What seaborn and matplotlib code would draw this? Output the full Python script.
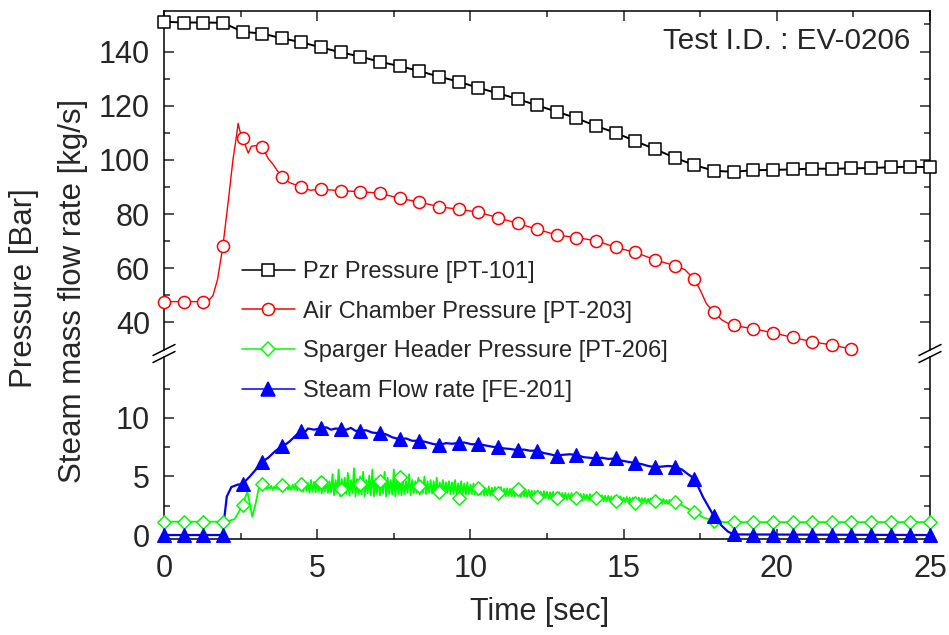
import numpy as np
import matplotlib
matplotlib.use("Agg")
import matplotlib.pyplot as plt
from matplotlib.lines import Line2D
from matplotlib.ticker import FixedLocator
import seaborn as sns

# ---------------- data ----------------
t_mark = [0.000, 0.641, 1.282, 1.923, 2.564, 3.205, 3.846, 4.487, 5.128, 5.769,
          6.410, 7.051, 7.692, 8.333, 8.974, 9.615, 10.256, 10.897, 11.538, 12.179,
          12.821, 13.462, 14.103, 14.744, 15.385, 16.026, 16.667, 17.308, 17.949, 18.590,
          19.231, 19.872, 20.513, 21.154, 21.795, 22.436, 23.077, 23.718, 24.359, 25.000]

pzr_mark = [151.0, 150.7, 150.7, 150.6, 147.3, 146.6, 144.9, 143.4, 141.5, 139.7,
            138.1, 136.2, 134.6, 132.8, 130.7, 128.9, 126.6, 124.6, 122.5, 120.1,
            117.8, 115.4, 112.5, 110.0, 106.9, 104.0, 100.8, 98.1, 96.0, 95.6,
            96.2, 96.3, 96.5, 96.8, 96.7, 96.9, 97.0, 97.3, 97.5, 97.3]

air_mark = [47.7, 47.7, 47.7, 68.3, 108.2, 104.8, 93.8, 90.0, 89.2, 88.6,
            88.3, 87.7, 85.8, 84.5, 82.7, 81.8, 80.7, 78.7, 76.6, 74.4,
            72.3, 71.3, 70.2, 67.7, 65.9, 63.1, 61.0, 55.9, 43.8, 38.9,
            37.7, 36.2, 34.5, 32.9, 31.7, 30.2]

sparger_mark = [1.14, 1.14, 1.14, 1.14, 2.6, 4.35, 4.3, 4.4, 4.5, 3.95,
                4.4, 4.64, 4.95, 4.2, 3.65, 3.18, 3.99, 3.63, 3.96, 3.22,
                3.18, 3.18, 3.18, 2.92, 2.74, 2.9, 2.85, 2.0, 1.2, 1.1,
                1.1, 1.1, 1.1, 1.1, 1.1, 1.1, 1.1, 1.1, 1.1, 1.1]

steam_mark = [0.0, 0.0, 0.0, 0.0, 4.36, 6.27, 7.6, 8.92, 9.12, 9.06,
              8.92, 8.69, 8.18, 8.06, 7.69, 7.86, 7.78, 7.49, 7.26, 7.21,
              6.75, 6.84, 6.55, 6.55, 6.15, 5.8, 5.84, 4.82, 1.6, 0.1,
              0.0, 0.0, 0.0, 0.0, 0.0, 0.0, 0.0, 0.0, 0.0, 0.0]

# continuous traces
air_line_t = [0.0, 1.3, 1.45, 1.6, 1.75, 1.923, 2.1, 2.25, 2.38, 2.42, 2.48, 2.564,
              2.65, 2.75, 2.85, 3.0, 3.205, 3.4, 3.55, 3.7, 3.846, 4.1, 4.487, 4.77,
              5.128, 5.769, 6.410, 7.051, 7.692, 8.333, 8.974, 9.615, 10.256, 10.897,
              11.538, 12.179, 12.821, 13.462, 14.103, 14.744, 15.385, 16.026, 16.667,
              17.0, 17.308, 17.5, 17.7, 17.949, 18.2, 18.4, 18.590, 19.231, 19.872,
              20.513, 21.154, 21.795, 22.436, 22.65]
air_line_v = [47.7, 47.7, 48.0, 50.0, 56.0, 68.3, 85.0, 100.0, 110.0, 113.5, 110.5, 108.2,
              105.5, 102.5, 105.0, 105.3, 104.8, 100.5, 98.5, 96.0, 93.8, 91.6, 90.0, 88.8,
              89.2, 88.6, 88.3, 87.7, 85.8, 84.5, 82.7, 81.8, 80.7, 78.7,
              76.6, 74.4, 72.3, 71.3, 70.2, 67.7, 65.9, 63.1, 61.0,
              59.5, 55.9, 52.0, 47.0, 43.8, 41.0, 39.7, 38.9, 37.7, 36.2,
              34.5, 32.9, 31.7, 30.2, 29.6]

sparger_head_t = [0.0, 1.9, 2.1, 2.3, 2.45, 2.564, 2.72, 2.8, 2.88, 3.0, 3.1]
sparger_head_v = [1.14, 1.14, 1.2, 1.35, 2.0, 2.6, 3.7, 2.7, 1.56, 2.8, 4.1]
# noisy section: peaks (at 3.2, 3.3, ... 16.6 s) and troughs (0.05 s later)
sparger_noise_hi = [4.15, 4.2, 4.1, 4.2, 4.15, 4.25, 4.15, 4.2, 4.3, 4.2, 4.3, 4.25, 4.35,
                    4.5, 4.6, 4.45, 4.7, 4.55, 4.6, 4.8, 4.5, 4.7, 4.6,
                    5.2, 4.7, 5.6, 4.8, 4.9, 5.3, 4.7, 5.7, 4.8, 5.0, 5.4, 4.7, 5.1,
                    5.6, 4.8, 5.0, 4.7, 5.4, 4.9, 4.7, 5.6, 4.8, 5.0, 4.7,
                    4.6, 5.2, 4.7, 4.6, 4.9, 4.6, 5.0, 4.6, 4.7, 4.6, 4.9, 4.5, 4.7, 4.5, 4.6,
                    4.5, 4.7, 4.4, 4.6, 4.4, 4.5, 4.3, 4.4,
                    4.2, 4.1, 4.2, 4.0, 4.15, 4.05, 4.1, 4.0, 4.1, 3.95, 4.0, 3.95, 4.0, 3.9,
                    3.95, 3.85, 3.9, 3.85, 3.8,
                    3.75, 3.8, 3.7, 3.75, 3.7, 3.65, 3.7, 3.6, 3.65, 3.6, 3.6, 3.55, 3.6, 3.5,
                    3.55, 3.5, 3.5, 3.45, 3.5, 3.4, 3.45, 3.4, 3.4, 3.35, 3.35,
                    3.3, 3.3, 3.25, 3.3, 3.2, 3.25, 3.2, 3.2, 3.15, 3.2, 3.15, 3.15, 3.1, 3.15,
                    3.1, 3.1, 3.05, 3.1, 3.0, 3.0, 2.95]
sparger_noise_lo = [3.95, 3.9, 3.95, 3.85, 3.95, 3.9, 3.95, 3.85, 3.9, 3.85, 3.9, 3.8, 3.85,
                    3.7, 3.75, 3.6, 3.7, 3.65, 3.7, 3.55, 3.7, 3.6, 3.65,
                    3.4, 3.6, 3.3, 3.55, 3.5, 3.35, 3.6, 3.3, 3.5, 3.45, 3.3, 3.55, 3.4,
                    3.3, 3.5, 3.4, 3.55, 3.3, 3.5, 3.45, 3.3, 3.5, 3.4, 3.5,
                    3.6, 3.4, 3.55, 3.6, 3.45, 3.6, 3.5, 3.6, 3.55, 3.6, 3.45, 3.6, 3.55, 3.6, 3.5,
                    3.5, 3.45, 3.55, 3.5, 3.45, 3.5, 3.5, 3.45,
                    3.4, 3.45, 3.35, 3.4, 3.35, 3.4, 3.3, 3.4, 3.35, 3.3, 3.35, 3.3, 3.3, 3.35,
                    3.25, 3.3, 3.25, 3.3, 3.2,
                    3.15, 3.2, 3.1, 3.15, 3.1, 3.1, 3.05, 3.1, 3.05, 3.05, 3.0, 3.05, 3.0, 3.0,
                    3.0, 2.95, 3.0, 2.95, 2.95, 2.9, 2.95, 2.9, 2.9, 2.9, 2.85,
                    2.85, 2.8, 2.85, 2.8, 2.8, 2.8, 2.75, 2.8, 2.75, 2.75, 2.75, 2.7, 2.75, 2.7,
                    2.7, 2.7, 2.65, 2.7, 2.65, 2.6, 2.6]
sparger_tail_t = [16.8, 17.0, 17.308, 17.6, 17.949, 18.3, 25.0]
sparger_tail_v = [2.7, 2.4, 1.95, 1.5, 1.2, 1.1, 1.1]

steam_line_t = [0.0, 1.93, 1.97, 2.05, 2.2, 2.4, 2.564, 2.8, 3.0, 3.205, 3.4, 3.6, 3.846,
                4.0, 4.1, 4.3, 4.487, 4.6, 4.7, 4.9, 5.128, 5.3, 5.45, 5.6, 5.769, 5.95,
                6.1, 6.25, 6.410, 6.6, 6.8, 7.051, 7.25, 7.45, 7.692, 7.9, 8.1, 8.333,
                8.55, 8.75, 8.974, 9.2, 9.4, 9.615, 9.8, 10.05, 10.256, 10.5, 10.7,
                10.897, 11.1, 11.3, 11.538, 11.75, 11.95, 12.179, 12.4, 12.6, 12.821,
                13.0, 13.25, 13.462, 13.7, 13.9, 14.103, 14.3, 14.5, 14.744, 14.95,
                15.15, 15.385, 15.6, 15.8, 16.026, 16.25, 16.45, 16.667, 16.9, 17.1,
                17.308, 17.6, 17.949, 18.2, 18.4, 18.59, 25.0]
steam_line_v = [0.0, 0.0, 1.5, 3.3, 4.1, 4.3, 4.36, 5.0, 5.6, 6.27, 6.6, 7.1, 7.6,
                7.8, 8.0, 8.5, 8.92, 8.8, 9.1, 9.0, 9.12, 9.2, 9.0, 9.1, 9.06, 9.0,
                9.15, 8.9, 8.92, 8.95, 8.75, 8.69, 8.6, 8.35, 8.18, 8.25, 8.05, 8.06,
                7.95, 7.8, 7.69, 7.85, 7.8, 7.86, 7.9, 7.75, 7.78, 7.65, 7.55,
                7.49, 7.4, 7.35, 7.26, 7.3, 7.2, 7.21, 7.0, 6.9, 6.75,
                6.85, 6.9, 6.84, 6.65, 6.6, 6.55, 6.6, 6.5, 6.55, 6.35,
                6.25, 6.15, 6.05, 5.9, 5.8, 5.85, 5.9, 5.84, 5.6, 5.2,
                4.82, 3.2, 1.6, 0.8, 0.3, 0.05, 0.0]

labels = ["Pzr Pressure [PT-101]", "Air Chamber Pressure [PT-203]",
          "Sparger Header Pressure [PT-206]", "Steam Flow rate [FE-201]"]
colors = ["black", "#FF0000", "#00FF00", "#0000FF"]

# ---------------- figure ----------------
sns.set_theme(style="ticks")
plt.rcParams["font.family"] = ["Liberation Sans", "DejaVu Sans"]
plt.rcParams["axes.linewidth"] = 1.1

W, H = 949, 635
fig = plt.figure(figsize=(W / 100, H / 100), dpi=100)
left = 164 / W
width = (930 - 164) / W
ax_top = fig.add_axes([left, 1 - 350 / H, width, (350 - 11) / H])
ax_bot = fig.add_axes([left, 1 - 539 / H, width, (539 - 357) / H])

ms_sq = 8.7
# top panel
sns.lineplot(x=t_mark, y=pzr_mark, ax=ax_top, color=colors[0], lw=1.4,
             sort=False, estimator=None)
sns.scatterplot(x=t_mark, y=pzr_mark, ax=ax_top, marker="s", s=ms_sq ** 2,
                color="white", edgecolor=colors[0], linewidth=1.1, zorder=3,
                clip_on=False)
sns.lineplot(x=air_line_t, y=air_line_v, ax=ax_top, color=colors[1], lw=1.0,
             sort=False, estimator=None)
sns.scatterplot(x=t_mark[:len(air_mark)], y=air_mark, ax=ax_top, marker="o",
                s=ms_sq ** 2, color="white", edgecolor=colors[1], linewidth=1.1,
                zorder=3, clip_on=False)

# bottom panel
sparger_t = list(sparger_head_t)
sparger_v = list(sparger_head_v)
for i, (hi, lo) in enumerate(zip(sparger_noise_hi, sparger_noise_lo)):
    t0 = round(3.2 + 0.1 * i, 3)
    sparger_t += [t0, t0 + 0.05]
    sparger_v += [hi, lo]
sparger_t += list(sparger_tail_t)
sparger_v += list(sparger_tail_v)
sns.lineplot(x=sparger_t, y=sparger_v, ax=ax_bot, color=colors[2], lw=1.3,
             sort=False, estimator=None)
sns.scatterplot(x=t_mark, y=sparger_mark, ax=ax_bot, marker="D", s=6.8 ** 2,
                color="white", edgecolor=colors[2], linewidth=1.1, zorder=3,
                clip_on=False)
sns.lineplot(x=steam_line_t, y=steam_line_v, ax=ax_bot, color=colors[3], lw=1.6,
             sort=False, estimator=None)
sns.scatterplot(x=t_mark, y=steam_mark, ax=ax_bot, marker="^", s=9.8 ** 2,
                color=colors[3], edgecolor=colors[3], linewidth=1.0, zorder=4,
                clip_on=False)

for ax in (ax_top, ax_bot):
    ax.set_xlim(0, 25)
    ax.xaxis.set_major_locator(FixedLocator([0, 5, 10, 15, 20, 25]))
    ax.xaxis.set_minor_locator(FixedLocator([2.5, 7.5, 12.5, 17.5, 22.5]))
    ax.tick_params(which="both", direction="in", width=1.1, labelsize=22,
                   left=True, right=True)
    ax.tick_params(axis="y", pad=10)
    ax.tick_params(axis="x", pad=11)
    ax.tick_params(which="major", length=7)
    ax.tick_params(which="minor", length=4.5)
    ax.set_xlabel("")
    ax.set_ylabel("")
    ax.set_facecolor("none")
    for s in ax.spines.values():
        s.set_color("black")
        s.set_linewidth(1.1)

ax_top.set_ylim(29.85, 154.95)
ax_top.yaxis.set_major_locator(FixedLocator([40, 60, 80, 100, 120, 140]))
ax_top.yaxis.set_minor_locator(FixedLocator([50, 70, 90, 110, 130, 150]))
ax_top.spines["bottom"].set_visible(False)
ax_top.tick_params(axis="x", which="both", bottom=False, top=True,
                   labelbottom=False, labeltop=False)

ax_bot.set_ylim(-0.34, 15.21)
ax_bot.yaxis.set_major_locator(FixedLocator([0, 5, 10]))
ax_bot.yaxis.set_minor_locator(FixedLocator([2.5, 7.5, 12.5]))
ax_bot.spines["top"].set_visible(False)
ax_bot.tick_params(axis="x", which="both", bottom=True, top=False,
                   labelbottom=True)

# axis break marks
for xs in (164, 930):
    for yb in (350, 357):
        fig.add_artist(Line2D([(xs - 11) / W, (xs + 11) / W],
                              [1 - (yb + 5.5) / H, 1 - (yb - 5.5) / H],
                              transform=fig.transFigure, color="black", lw=1.1))

# axis labels
fig.text(540 / W, 1 - 612 / H, "Time [sec]", ha="center", va="center", fontsize=22)
fig.text(24 / W, 1 - 288 / H, "Pressure [Bar]", rotation=90, ha="center",
         va="center", fontsize=22.5)
fig.text(73 / W, 1 - 291 / H, "Steam mass flow rate [kg/s]", rotation=90,
         ha="center", va="center", fontsize=22.5)

fig.text(910 / W, 1 - 41 / H, "Test I.D. : EV-0206", ha="right", va="center",
         fontsize=21.3)

# legend
markers = ["s", "o", "D", "^"]
msizes = [ms_sq, ms_sq, 6.8, 9.8]
handles = []
for c, m, msz in zip(colors, markers, msizes):
    fc = c if m == "^" else "white"
    handles.append(Line2D([], [], color=c, lw=1.1, marker=m, ms=msz, mfc=fc,
                          mec=c, mew=1.1))
fig.legend(handles, labels, loc="upper left",
           bbox_to_anchor=(242 / W, 1 - 261 / H), frameon=False, fontsize=17,
           handlelength=2.24, handletextpad=0.34, labelspacing=0.75,
           borderpad=0, borderaxespad=0)

fig.savefig("out.png", dpi=100)
